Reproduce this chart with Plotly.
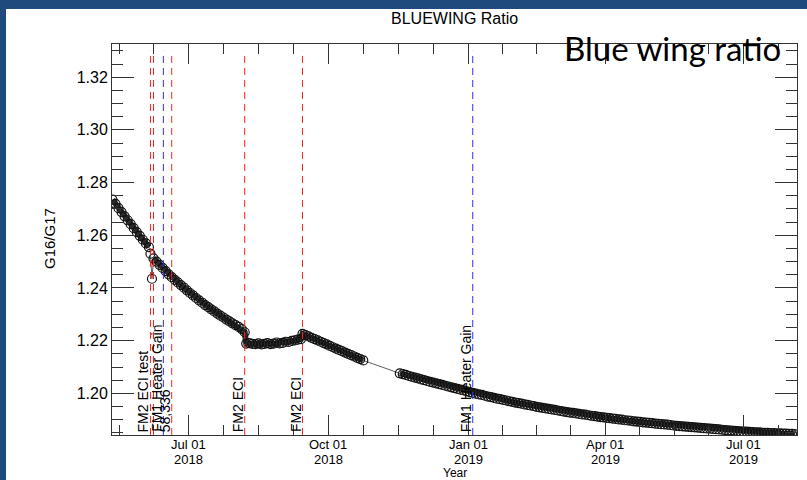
import pandas as pd
import plotly.graph_objects as go

# ---------------- data ----------------
seg_a_start = "2018-05-12"
seg_a_vals = [1.2735, 1.2719, 1.2703, 1.2688, 1.2672, 1.2657, 1.2642, 1.2627,
              1.2612, 1.2598, 1.2583, 1.2569, 1.2555]

drop_dates = ["2018-06-06", "2018-06-07"]
drop_vals = [1.2530, 1.2435]

seg_b_start = "2018-06-08"
seg_b_vals = [1.2512, 1.2500, 1.2488, 1.2476, 1.2464, 1.2452, 1.2441, 1.2431,
              1.2421, 1.2411, 1.2401, 1.2391, 1.2381, 1.2372, 1.2362, 1.2353,
              1.2344, 1.2335, 1.2327, 1.2319, 1.2311, 1.2303, 1.2295, 1.2288,
              1.2280, 1.2273, 1.2266, 1.2259, 1.2252, 1.2244, 1.2232]

seg_c_start = "2018-08-08"
seg_c_vals = [1.2189, 1.2191, 1.2188, 1.2187, 1.2190, 1.2186, 1.2188, 1.2191,
              1.2187, 1.2189, 1.2193, 1.2190, 1.2192, 1.2196, 1.2195, 1.2199,
              1.2201, 1.2204, 1.2206]

seg_d_start = "2018-09-14"
seg_d_vals = [1.2226, 1.2221, 1.2216, 1.2211, 1.2206, 1.2201, 1.2196, 1.2191,
              1.2186, 1.2180, 1.2175, 1.2170, 1.2165, 1.2160, 1.2155, 1.2150,
              1.2145, 1.2140, 1.2135, 1.2130, 1.2125]

seg_e_start = "2018-11-17"
seg_e_vals = [1.2076, 1.2073, 1.2070, 1.2066, 1.2063, 1.2060, 1.2057, 1.2053,
              1.2050, 1.2047, 1.2044, 1.2041, 1.2038, 1.2035, 1.2032, 1.2029,
              1.2026, 1.2023, 1.2020, 1.2017, 1.2014, 1.2011, 1.2008, 1.2005,
              1.2002, 1.1999,
              1.1996, 1.1994, 1.1991, 1.1988, 1.1986, 1.1983, 1.1980, 1.1978,
              1.1975, 1.1973, 1.1970, 1.1968, 1.1965, 1.1963, 1.1961, 1.1958,
              1.1956, 1.1954, 1.1952, 1.1949, 1.1947, 1.1945, 1.1943, 1.1941,
              1.1939,
              1.1937, 1.1935, 1.1933, 1.1931, 1.1929, 1.1927, 1.1926, 1.1924,
              1.1922, 1.1920, 1.1919, 1.1917, 1.1915, 1.1914, 1.1912, 1.1910,
              1.1909, 1.1907, 1.1906, 1.1904, 1.1903, 1.1901, 1.1900, 1.1898,
              1.1897,
              1.1896, 1.1894, 1.1893, 1.1892, 1.1890, 1.1889, 1.1888, 1.1887,
              1.1885, 1.1884, 1.1883, 1.1882, 1.1881, 1.1880, 1.1878, 1.1877,
              1.1876, 1.1875, 1.1874, 1.1873, 1.1872, 1.1871, 1.1870, 1.1869,
              1.1868,
              1.1867, 1.1866, 1.1865, 1.1864, 1.1863, 1.1862, 1.1861, 1.1860,
              1.1859, 1.1858, 1.1857, 1.1856, 1.1855, 1.1855, 1.1854, 1.1853,
              1.1852, 1.1852, 1.1851, 1.1850, 1.1850, 1.1849, 1.1849, 1.1848,
              1.1848, 1.1847, 1.1847, 1.1846, 1.1846, 1.1845]

event_dates = ["2018-06-06", "2018-06-08", "2018-06-14 12:00", "2018-06-20",
               "2018-08-07", "2018-09-14", "2019-01-04"]
event_colors = ["#ff2020", "#ff2020", "#3030ff", "#ff2020", "#ff2020", "#ff2020", "#3030ff"]
event_labels = ["FM2 ECI test", "", "FM1 Heater Gain", "58,336", "FM2 ECI", "FM2 ECI",
                "FM1 Heater Gain"]

major_tick_dates = ["2018-07-01", "2018-10-01", "2019-01-01", "2019-04-01", "2019-07-01"]
major_tick_top = ["Jul 01", "Oct 01", "Jan 01", "Apr 01", "Jul 01"]
major_tick_bottom = ["2018", "2018", "2019", "2019", "2019"]
quarter_bounds = ["2018-04-01", "2018-07-01", "2018-10-01", "2019-01-01",
                  "2019-04-01", "2019-07-01", "2019-10-01"]

x_range = ["2018-05-11 17:00", "2019-08-05 07:00"]
y_range = [1.1842, 1.3326]

# ---------------- build series ----------------
def seg_dates(start, n):
    return list(pd.date_range(start, periods=n, freq="2D"))

da = seg_dates(seg_a_start, len(seg_a_vals))
dd = [pd.Timestamp(d) for d in drop_dates]
db = seg_dates(seg_b_start, len(seg_b_vals))
dc = seg_dates(seg_c_start, len(seg_c_vals))
ddd = seg_dates(seg_d_start, len(seg_d_vals))
de = seg_dates(seg_e_start, len(seg_e_vals))

dates = da + dd + db + dc + ddd + de
values = seg_a_vals + drop_vals + seg_b_vals + seg_c_vals + seg_d_vals + seg_e_vals

# dense-band pieces (continuous runs of data), separated by gaps
band_x = da + [None] + db + dc + ddd + [None] + de
band_y = seg_a_vals + [None] + seg_b_vals + seg_c_vals + seg_d_vals + [None] + seg_e_vals

minor_ticks = []
qb = [pd.Timestamp(d) for d in quarter_bounds]
for a, b in zip(qb[:-1], qb[1:]):
    for k in (1, 2, 3):
        t = a + (b - a) * k / 4
        if pd.Timestamp(x_range[0]) < t < pd.Timestamp(x_range[1]):
            minor_ticks.append(t)

FONT = "Liberation Sans"
AX = "#333333"
PLOT_TOP, PLOT_BOTTOM = 44, 435


def py_to_paper(py):
    return (PLOT_BOTTOM - py) / (PLOT_BOTTOM - PLOT_TOP)


fig = go.Figure()
fig.add_trace(go.Scatter(
    x=dates, y=values, mode="lines", line=dict(color="#333333", width=0.8),
    showlegend=False, hoverinfo="skip"))
fig.add_trace(go.Scatter(
    x=band_x, y=band_y, mode="lines", connectgaps=False,
    line=dict(color="#2b2b2b", width=6), showlegend=False, hoverinfo="skip"))
fig.add_trace(go.Scatter(
    x=dates, y=values, mode="markers",
    marker=dict(symbol="circle-open", size=9, color="#111111", line=dict(width=1.2)),
    showlegend=False, hoverinfo="skip"))

shapes = [dict(type="rect", xref="paper", yref="paper", x0=-0.1547, x1=1.03,
               y0=-0.13, y1=1.0895, fillcolor="white", line=dict(width=0), layer="below")]
for d, c in zip(event_dates, event_colors):
    shapes.append(dict(type="line", xref="x", yref="y", x0=d, x1=d, y0=y_range[0], y1=1.33,
                       line=dict(color=c, width=1, dash="7px,5px"), layer="above"))

annotations = []
for d, lab in zip(event_dates, event_labels):
    if lab:
        annotations.append(dict(x=d, y=0, xref="x", yref="paper", text=lab, textangle=-90,
                                xanchor="right", yanchor="bottom", showarrow=False,
                                xshift=2, yshift=2, borderpad=0,
                                font=dict(family=FONT, size=14, color="black")))
for d, t1, t2 in zip(major_tick_dates, major_tick_top, major_tick_bottom):
    annotations.append(dict(x=d, y=py_to_paper(444.5), xref="x", yref="paper", text=t1,
                            showarrow=False, yanchor="middle", borderpad=0,
                            font=dict(family=FONT, size=13, color="black")))
    annotations.append(dict(x=d, y=py_to_paper(459.2), xref="x", yref="paper", text=t2,
                            showarrow=False, yanchor="middle", borderpad=0,
                            font=dict(family=FONT, size=13, color="black")))
annotations += [
    dict(x=0.5007, y=py_to_paper(473.2), xref="paper", yref="paper", text="Year",
         showarrow=False, yanchor="middle", borderpad=0,
         font=dict(family=FONT, size=12, color="black")),
    dict(x=-0.092, y=py_to_paper(238), xref="paper", yref="paper", text="G16/G17",
         textangle=-90, showarrow=False, xanchor="center", yanchor="middle",
         font=dict(family=FONT, size=15, color="black")),
    dict(x=0.4993, y=py_to_paper(19), xref="paper", yref="paper", text="BLUEWING Ratio",
         showarrow=False, yanchor="middle", font=dict(family=FONT, size=16, color="black")),
    dict(x=0.657, y=0.9898, xref="paper", yref="paper", text="Blue wing ratio",
         showarrow=False, xanchor="left", yanchor="middle",
         font=dict(family="Lato", size=33, color="black")),
]

fig.update_layout(
    width=807, height=480,
    margin=dict(l=112, r=10, t=PLOT_TOP, b=480 - PLOT_BOTTOM),
    paper_bgcolor="#1F4A7E", plot_bgcolor="white",
    font=dict(family=FONT, size=14, color="black"),
    shapes=shapes, annotations=annotations,
    xaxis=dict(type="date", range=x_range, showgrid=False, zeroline=False,
               showline=True, linecolor=AX, linewidth=1, mirror="allticks",
               ticks="inside", ticklen=20, tickcolor=AX, tickwidth=1,
               tickmode="array", tickvals=major_tick_dates, showticklabels=False,
               minor=dict(tickmode="array", tickvals=minor_ticks, ticks="inside",
                          ticklen=10, tickcolor=AX, tickwidth=1, showgrid=False)),
    yaxis=dict(range=y_range, showgrid=False, zeroline=False,
               showline=True, linecolor=AX, linewidth=1, mirror="allticks",
               ticks="inside", ticklen=22, tickcolor=AX, tickwidth=1,
               tick0=1.20, dtick=0.02, tickformat=".2f", ticklabelstandoff=0,
               tickfont=dict(family=FONT, size=16, color="black"),
               minor=dict(dtick=0.005, tick0=1.20, ticks="inside", ticklen=11,
                          tickcolor=AX, tickwidth=1, showgrid=False)),
)

fig.write_html("out.html", config={"displayModeBar": False},
               post_script="document.body.style.margin='0px';document.body.style.padding='0px';"
                           "document.body.style.overflow='hidden';")
